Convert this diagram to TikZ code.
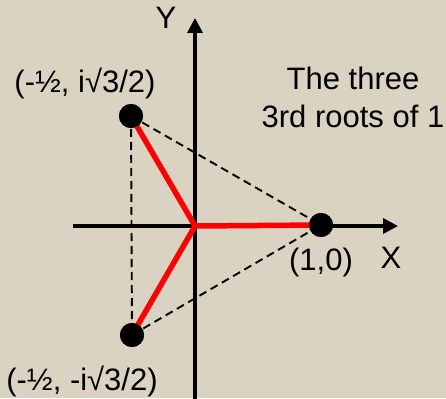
\documentclass[tikz,border=0pt]{standalone}
\usepackage{fontspec}
\setmainfont{Liberation Sans}
\usetikzlibrary{arrows.meta}
\definecolor{paper}{RGB}{219,211,193}
\begin{document}
\begin{tikzpicture}[x=1pt,y=-1pt,
  axis/.style={line width=3.5pt,-{Triangle[length=15pt,width=15pt]}},
  rootline/.style={red,line width=5.5pt},
  dashline/.style={line width=1.9pt,dash pattern=on 8pt off 5pt},
  dot/.style={circle,fill=black,inner sep=0pt,minimum size=24pt},
  lbl/.style={font=\fontsize{31}{38}\selectfont,inner sep=0pt,anchor=base}]
\fill[paper] (0,0) rectangle (446,398);
\useasboundingbox (0,0) rectangle (446,398);
% axes
\coordinate (xl) at (73,226);
\coordinate (xr) at (398,226);
\coordinate (yb) at (195,399);
\coordinate (yt) at (195,18);
\draw[axis] (xl) -- (xr);
\draw[axis] (yb) -- (yt);
% points
\coordinate (O) at (195,226);
\node[dot] (A) at (321,225) {};
\node[dot] (B) at (131,116) {};
\node[dot] (C) at (132,335) {};
% dashed triangle
\draw[dashline] (B.center) -- (C.center);
\draw[dashline] (B.center) -- (A.center);
\draw[dashline] (C.center) -- (A.center);
% red roots
\draw[rootline] (O) -- (A.center);
\draw[rootline] (O) -- (B.center);
\draw[rootline] (O) -- (C.center);
% redraw dots on top
\node[dot] at (A.center) {};
\node[dot] at (B.center) {};
\node[dot] at (C.center) {};
% labels
\node[lbl] (ylab) at (166,29) {Y};
\node[lbl] (xlab) at (391,268) {X};
\node[lbl] (alab) at (321,270) {(1,0)};
\node[lbl] (blab) at (85,93) {(-½, i√3/2)};
\node[lbl] (clab) at (82,390) {(-½, -i√3/2)};
\node[lbl,align=center] (title) at (353,128) {The three\\3rd roots of 1};
\end{tikzpicture}
\end{document}
